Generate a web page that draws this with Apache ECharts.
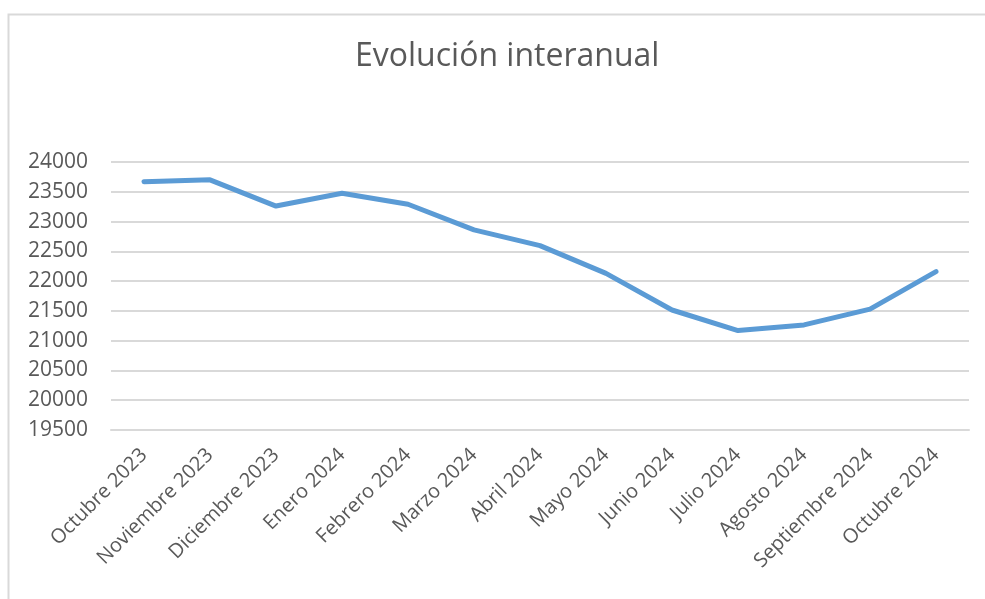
<!DOCTYPE html>
<html>
<head>
<meta charset="utf-8">
<script src="https://cdn.jsdelivr.net/npm/echarts@6/dist/echarts.min.js"></script>
<style>
  html, body { margin: 0; padding: 0; background: #fff; }
  #chart { width: 985px; height: 599px; }
</style>
</head>
<body>
<div id="chart"></div>
<script>
var months = ['Octubre 2023', 'Noviembre 2023', 'Diciembre 2023', 'Enero 2024', 'Febrero 2024',
    'Marzo 2024', 'Abril 2024', 'Mayo 2024', 'Junio 2024', 'Julio 2024', 'Agosto 2024',
    'Septiembre 2024', 'Octubre 2024'];
var values = [23670, 23700, 23260, 23475, 23290, 22860, 22595, 22130, 21515, 21170, 21265, 21530, 22160];
var yMin = 19500;
var yMax = 24000;
var yStep = 500;

var chart = echarts.init(document.getElementById('chart'));

chart.setOption({
    animation: false,
    backgroundColor: '#fff',
    // marco gris del gráfico
    graphic: [{
        type: 'rect',
        shape: { x: 8.5, y: 14.5, width: 1000, height: 600 },
        style: { fill: 'none', stroke: '#d9d9d9', lineWidth: 2 }
    }],
    title: {
        text: 'Evolución interanual',
        left: 350,
        top: 36,
        textStyle: {
            fontFamily: 'Open Sans',
            fontSize: 32,
            fontWeight: 'normal',
            color: '#595959'
        }
    },
    grid: {
        left: 111,
        right: 16,
        top: 162,
        bottom: 169
    },
    xAxis: {
        type: 'category',
        data: months,
        boundaryGap: true,
        axisLine: { lineStyle: { color: '#d9d9d9', width: 2 } },
        axisTick: { show: false },
        axisLabel: {
            rotate: 45,
            margin: 22,
            interval: 0,
            fontFamily: 'Open Sans',
            fontSize: 20,
            color: '#595959'
        }
    },
    yAxis: {
        type: 'value',
        min: yMin,
        max: yMax,
        interval: yStep,
        axisLine: { show: false },
        axisTick: { show: false },
        splitLine: { lineStyle: { color: '#d9d9d9', width: 2 } },
        axisLabel: {
            margin: 23,
            fontFamily: 'Open Sans',
            fontSize: 21,
            color: '#595959',
            formatter: function (v) { return String(v); }
        }
    },
    series: [{
        name: 'Evolución interanual',
        type: 'line',
        data: values,
        showSymbol: false,
        lineStyle: { color: '#5b9bd5', width: 5, cap: 'round', join: 'round' }
    }]
});
</script>
</body>
</html>
